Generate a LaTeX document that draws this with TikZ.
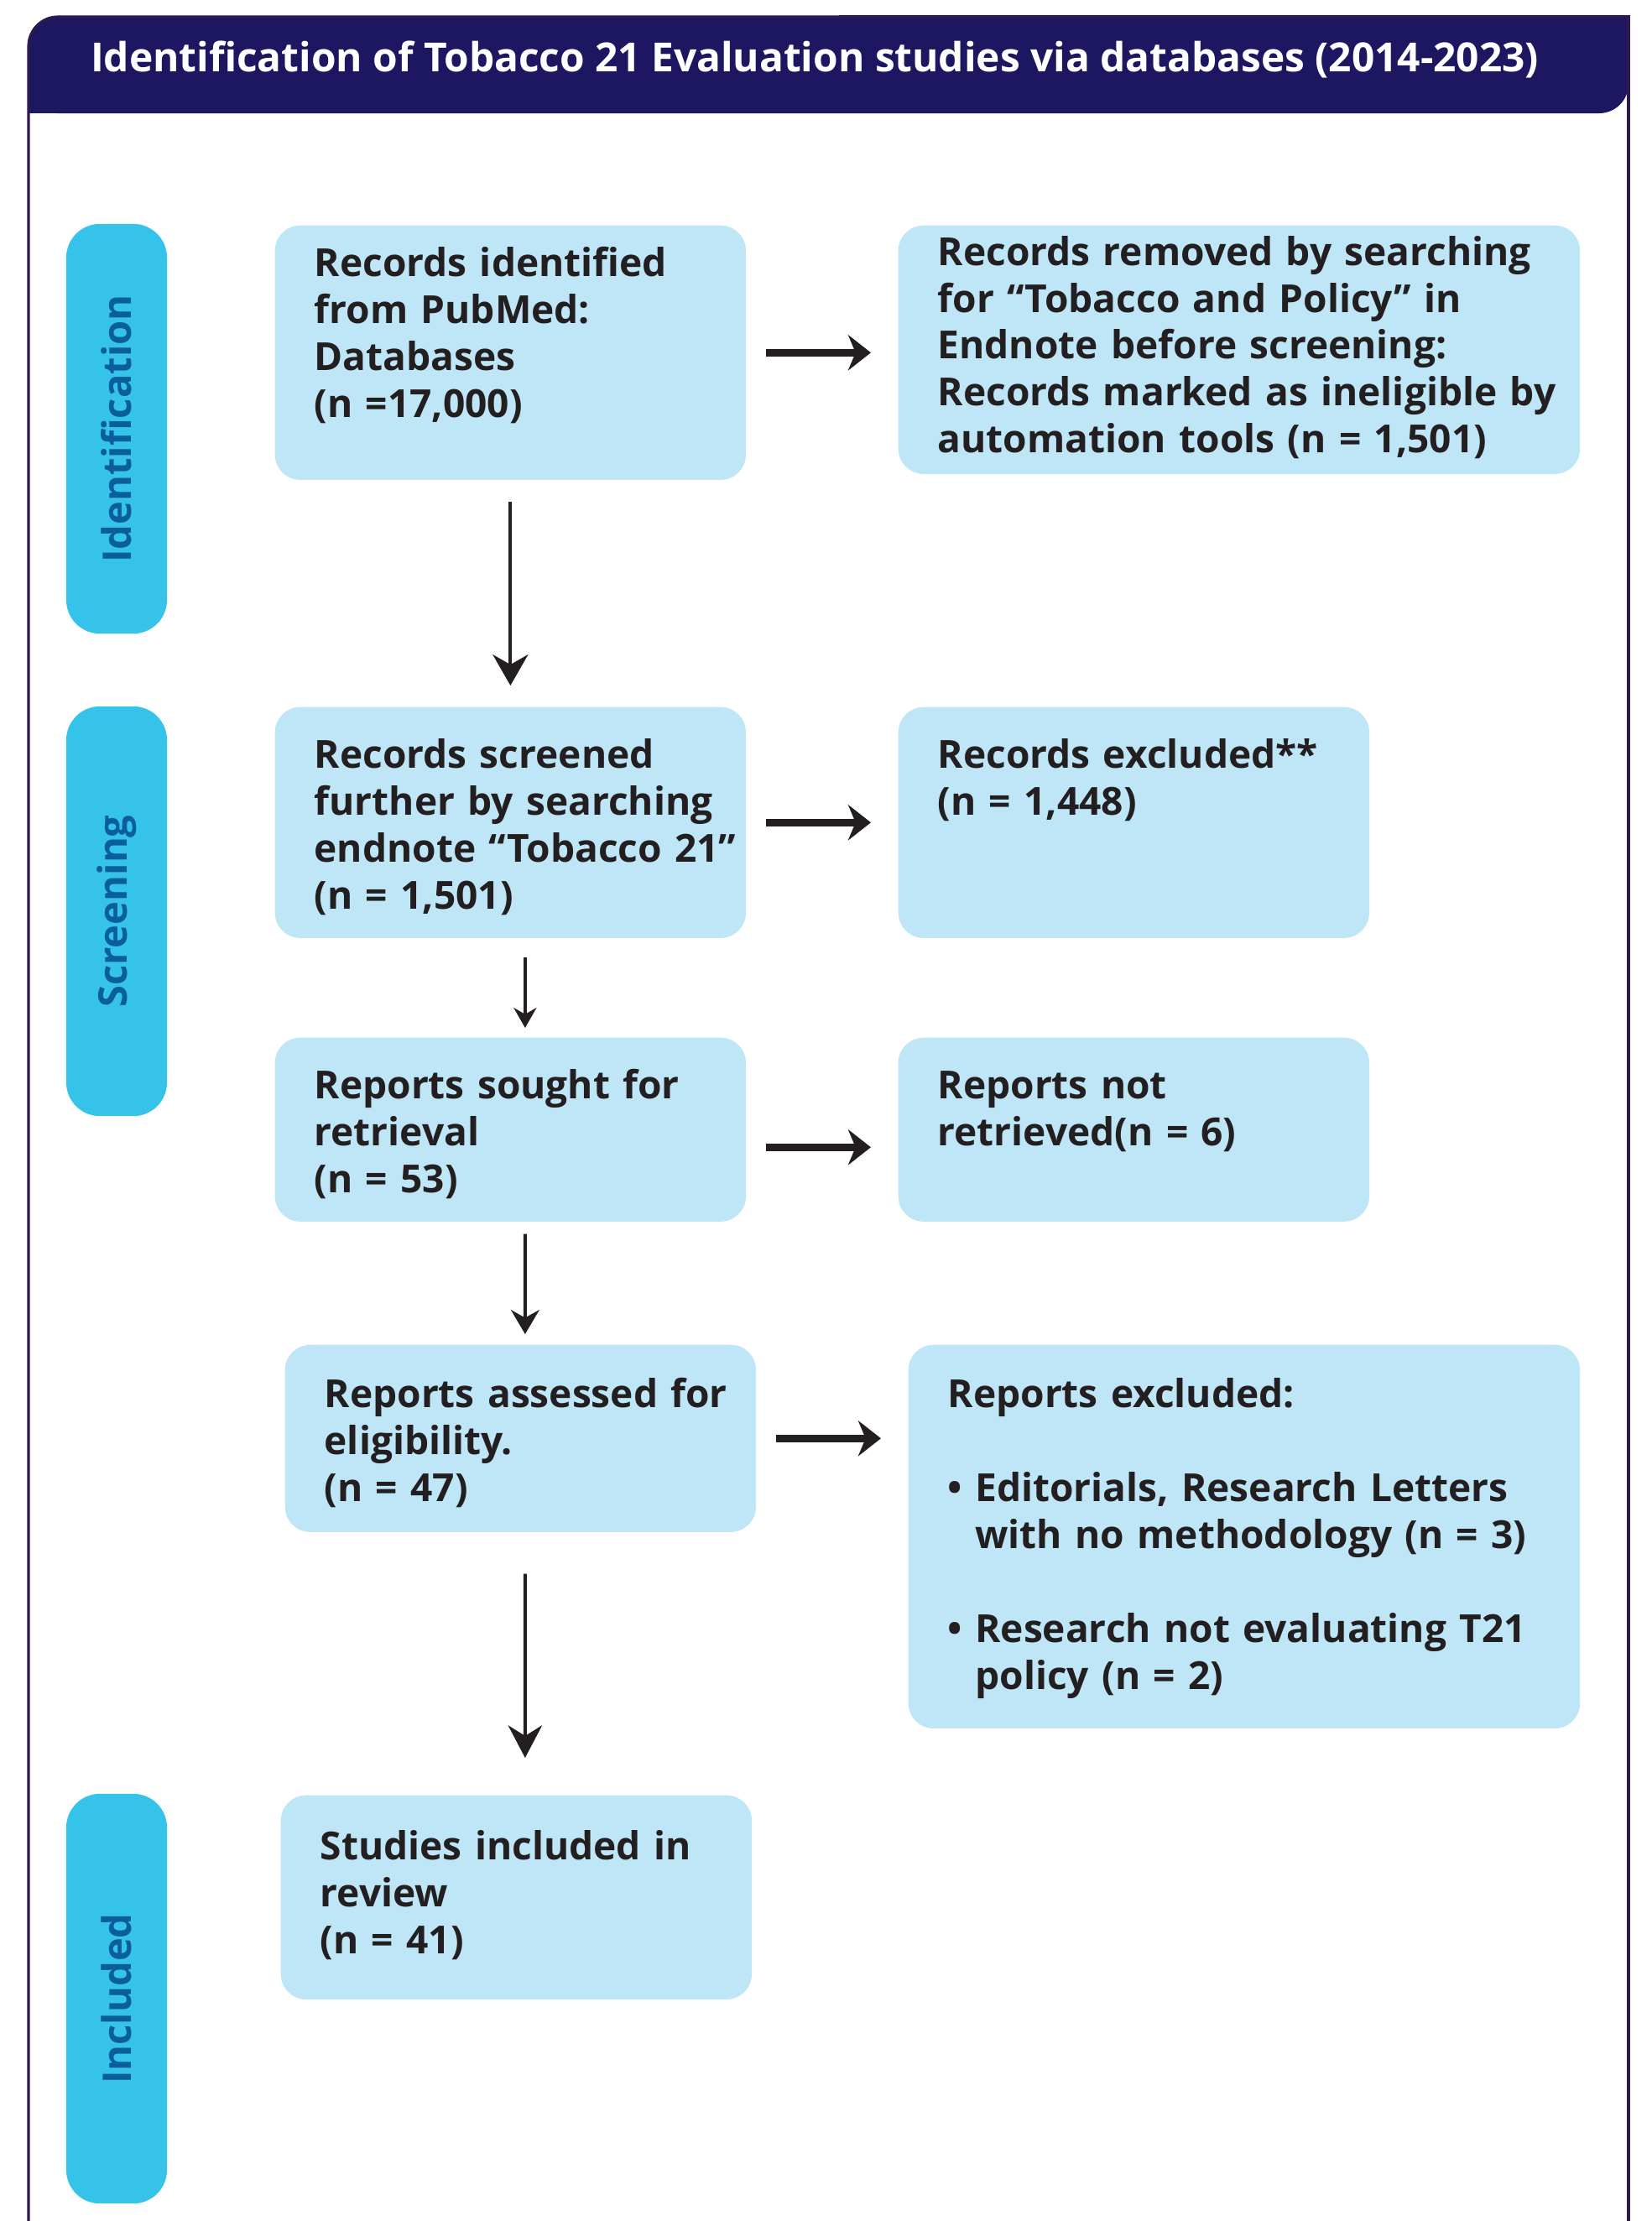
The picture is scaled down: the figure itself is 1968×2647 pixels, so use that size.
\documentclass[tikz,border=0pt]{standalone}
\usepackage{fontspec}
\setmainfont{Open Sans}
\usetikzlibrary{arrows.meta}

\definecolor{headnavy}{HTML}{1C1760}
\definecolor{framepurple}{HTML}{2E1A4F}
\definecolor{boxblue}{HTML}{BEE6F6}
\definecolor{tabblue}{HTML}{36C3EA}
\definecolor{tabtext}{HTML}{0A5E9C}
\definecolor{inktext}{HTML}{231F20}

% lines of a box, kept unbroken (optional: extra room on top)
\newcommand{\stack}[2][0pt]{\begin{tabular}{@{}l@{}}\rule{0pt}{\dimexpr 11.13pt+#1\relax}#2\end{tabular}}

\tikzset{
  box/.style={fill=boxblue, rounded corners=0.3cm, anchor=north west,
    inner xsep=0.47cm, inner ysep=0pt, align=left, text=inktext,
    font=\fontsize{13.1}{15.9}\selectfont\bfseries},
  tab/.style={fill=tabblue, rounded corners=0.4cm, minimum width=4.88cm,
    minimum height=1.2cm, rotate=90, text=tabtext,
    font=\fontsize{13.4}{16}\selectfont\bfseries},
  hflow/.style={draw=inktext, line width=2.6pt, -{Stealth[length=7.7pt, width=12pt]}},
  vflow/.style 2 args={draw=inktext, line width=1.1pt, -{Stealth[length=#1, width=#2]}}
}

\begin{document}
\begin{tikzpicture}[x=0.01cm, y=-0.01cm]
    \useasboundingbox (0,0) rectangle (1968,2647);

    % Frame and header
    \fill[headnavy, rounded corners=0.35cm] (34,20) rectangle (1941,135);
    \fill[headnavy] (1880,20) rectangle (1941,60);
    \fill[headnavy] (34,90) rectangle (90,135);
    \draw[framepurple, line width=0.9pt, rounded corners=0.35cm] (34,2647) -- (34,20) -- (1000,20);
    \draw[framepurple, line width=0.9pt] (1000,20) -- (1941,20) -- (1941,2647);
    \node[text=white, font=\fontsize{13.6}{16}\selectfont\bfseries] (title) at (971,71)
        {Identification of Tobacco 21 Evaluation studies via databases (2014-2023)};

    % Phase tabs
    \node[tab] (ident) at (139,511) {Identification};
    \node[tab] (screen) at (139,1086) {Screening};
    \node[tab] (incl) at (139,2382) {Included};

    % Boxes
    \node[box, text width=4.67cm, minimum height=3.03cm] (B1) at (327,268)
        {\stack[5.8pt]{Records identified\\from PubMed:\\Databases\\(n =17,000)\\\mbox{}}};
    \node[box, text width=7.18cm, minimum height=2.96cm] (R1) at (1070,268)
        {\stack{Records removed by searching\\for “Tobacco and Policy” in\\Endnote before screening:\\Records marked as ineligible by\\automation tools (n = 1,501)}};
    \node[box, text width=4.67cm, minimum height=2.75cm] (B2) at (327,842)
        {\stack[4.6pt]{Records screened\\further by searching\\endnote “Tobacco 21”\\(n = 1,501)}};
    \node[box, text width=4.67cm, minimum height=2.75cm] (R2) at (1070,842)
        {\stack[4.6pt]{Records excluded**\\(n = 1,448)\\\mbox{}\\\mbox{}}};
    \node[box, text width=4.67cm, minimum height=2.19cm] (B3) at (327,1236)
        {\stack[4.6pt]{Reports sought for\\retrieval\\(n = 53)}};
    \node[box, text width=4.67cm, minimum height=2.19cm] (R3) at (1070,1236)
        {\stack[4.6pt]{Reports not\\retrieved(n = 6)\\\mbox{}}};
    \node[box, text width=4.67cm, minimum height=2.23cm] (B4) at (339,1602)
        {\stack[4.6pt]{Reports assessed for\\eligibility.\\(n = 47)}};
    \node[box, text width=7.06cm, minimum height=4.57cm] (R4) at (1082,1602)
        {\stack[1.6pt]{Reports excluded:\\\mbox{}\\\textbullet\ Editorials, Research Letters\\\phantom{\textbullet\ }with no methodology (n = 3)\\\mbox{}\\\textbullet\ Research not evaluating T21\\\phantom{\textbullet\ }policy (n = 2)}};
    \node[box, text width=4.67cm, minimum height=2.43cm] (B5) at (334,2139)
        {\stack{Studies included in\\review\\(n = 41)}};

    % Side arrows
    \draw[hflow, shorten <=0.23cm, shorten >=0.32cm] (B1.east) -- (B1.east -| R1.west);
    \draw[hflow, shorten <=0.23cm, shorten >=0.32cm] (B2.east) -- (B2.east -| R2.west);
    \draw[hflow, shorten <=0.23cm, shorten >=0.32cm] ([yshift=-0.21cm]B3.east) -- ([yshift=-0.21cm]B3.east -| R3.west);
    \draw[hflow, shorten <=0.23cm, shorten >=0.32cm] (B4.east) -- (B4.east -| R4.west);

    % Down arrows
    \draw[vflow={10.5pt}{12pt}, shorten <=0.25cm, shorten >=0.25cm] (B1.south) -- (B2.north);
    \draw[vflow={6.8pt}{7.7pt}, shorten <=0.22cm, shorten >=0.11cm] ([xshift=0.175cm]B2.south) -- ([xshift=0.175cm]B3.north);
    \draw[vflow={8.2pt}{9.6pt}, shorten <=0.14cm, shorten >=0.12cm] ([xshift=0.175cm]B3.south) -- ([xshift=0.055cm]B4.north);
    \draw[vflow={11pt}{11.5pt}, shorten <=0.49cm, shorten >=0.44cm] ([xshift=0.055cm]B4.south) -- ([xshift=0.105cm]B5.north);
\end{tikzpicture}
\end{document}
